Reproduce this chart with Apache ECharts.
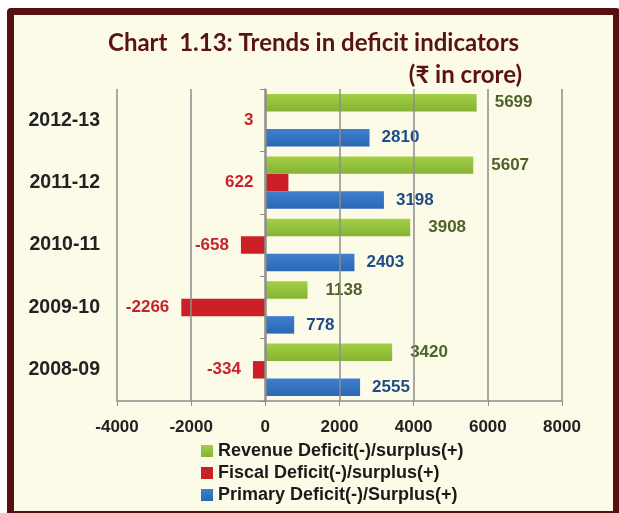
<!DOCTYPE html>
<html>
<head>
    <meta charset="utf-8">
    <title>Trends in deficit indicators</title>
    <script src="https://cdn.jsdelivr.net/npm/echarts@6.0.0/dist/echarts.min.js"></script>
    <style>
        html, body { margin: 0; padding: 0; background: #fff; }
        .frame {
            position: absolute;
            left: 7px; top: 8px;
            width: 613px; height: 510px;
            box-sizing: border-box;
            border: 7px solid #561010;
            border-radius: 4px;
            background: #fcfbe8;
        }
        #chart { position: absolute; left: 0; top: 0; width: 619px; height: 513px; }
    </style>
</head>
<body>
<div class="frame"></div>
<div id="chart"></div>

<script>
    // 数据 (₹ in crore)
    const years = ['2008-09', '2009-10', '2010-11', '2011-12', '2012-13'];
    const revenue = [3420, 1138, 3908, 5607, 5699];
    const fiscal = [-334, -2266, -658, 622, 3];
    const primary = [2555, 778, 2403, 3198, 2810];
    const seriesNames = [
        'Revenue Deficit(-)/surplus(+)',
        'Fiscal Deficit(-)/surplus(+)',
        'Primary Deficit(-)/Surplus(+)'
    ];

    const font = '"Liberation Sans", Arial, sans-serif';
    const titleFont = 'Lato, "Noto Sans", sans-serif';

    function grad(top, bottom) {
        return new echarts.graphic.LinearGradient(0, 0, 0, 1, [
            { offset: 0, color: top },
            { offset: 1, color: bottom }
        ]);
    }

    function barLabel(color, pos, dist) {
        return {
            show: true,
            position: pos,
            distance: dist,
            color: color,
            fontFamily: font,
            fontWeight: 'bold',
            fontSize: 17
        };
    }

    const chart = echarts.init(document.getElementById('chart'));
    chart.setOption({
        animation: false,
        textStyle: { fontFamily: font },
        title: [{
            text: 'Chart  1.13: Trends in deficit indicators',
            left: 103, top: 26,
            textStyle: { fontFamily: titleFont, fontWeight: 'bold', fontSize: 24, color: '#5a1214' }
        }, {
            text: '(₹ in crore)',
            right: 92, top: 58,
            textStyle: { fontFamily: titleFont, fontWeight: 'bold', fontSize: 24, color: '#5a1214' }
        }],
        legend: {
            orient: 'vertical',
            left: 196, top: 437,
            itemWidth: 12, itemHeight: 12, itemGap: 4,
            icon: 'rect',
            data: seriesNames,
            textStyle: { fontFamily: font, fontWeight: 'bold', fontSize: 18, color: '#1a1a1a' }
        },
        grid: { left: 117, right: 57, top: 89, bottom: 112 },
        xAxis: {
            type: 'value',
            min: -4000, max: 8000, interval: 2000,
            z: 5,
            axisLine: { show: true, lineStyle: { color: '#8c8c8c', width: 1.5 } },
            axisTick: { show: true, length: 5, lineStyle: { color: '#8c8c8c' } },
            axisLabel: { margin: 18, color: '#222', fontWeight: 'bold', fontSize: 17, formatter: v => String(v) },
            splitLine: { show: true, lineStyle: { color: '#8c8c8c', width: 1.5 } }
        },
        yAxis: [{
            type: 'category',
            data: years,
            axisLine: { show: false, onZero: false },
            axisTick: { show: false },
            axisLabel: { margin: 17, color: '#222', fontWeight: 'bold', fontSize: 19.5 }
        }, {
            type: 'category',
            data: years,
            position: 'left',
            offset: -148,
            z: 5,
            axisLine: { show: true, onZero: false, lineStyle: { color: '#8c8c8c', width: 1.5 } },
            axisTick: { show: true, length: 5, lineStyle: { color: '#8c8c8c' } },
            axisLabel: { show: false }
        }],
        series: [{
            name: seriesNames[0],
            type: 'bar',
            data: revenue,
            barCategoryGap: '16%',
            barGap: '0%',
            itemStyle: { color: grad('#a2cf45', '#86b333') },
            label: barLabel('#4f6228', 'right', 18)
        }, {
            name: seriesNames[1],
            type: 'bar',
            data: fiscal,
            barGap: '0%',
            itemStyle: { color: '#cd1f27' },
            label: barLabel('#c8232c', 'left', 12)
        }, {
            name: seriesNames[2],
            type: 'bar',
            data: primary,
            barGap: '0%',
            itemStyle: { color: grad('#3d80cf', '#2b67b3') },
            label: barLabel('#1f4b87', 'right', 12)
        }]
    });
</script>
</body>
</html>
